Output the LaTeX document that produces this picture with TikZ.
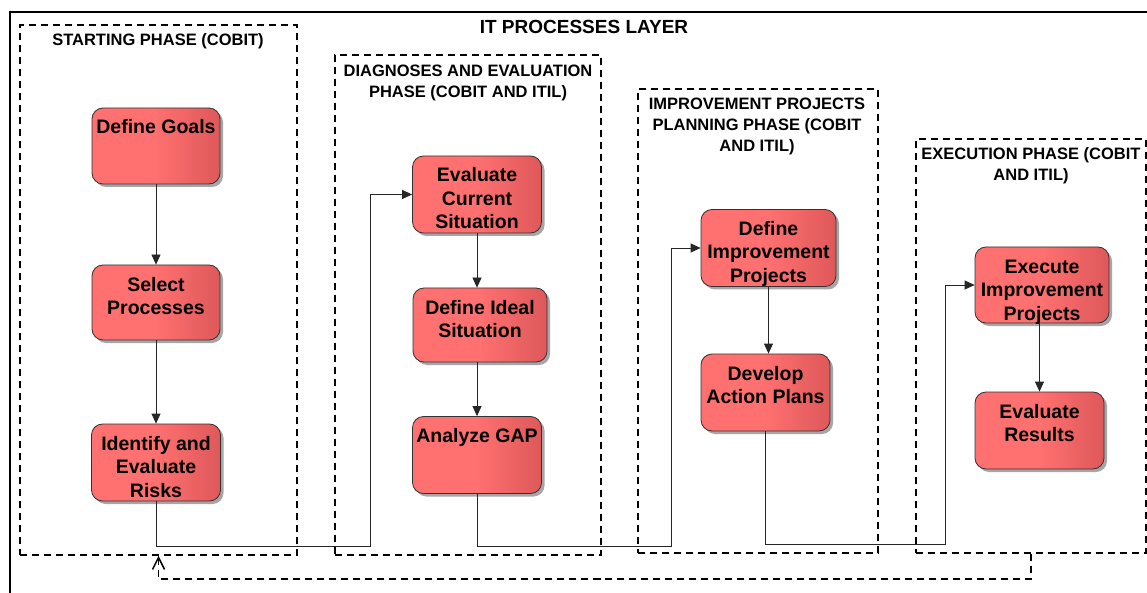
\documentclass[tikz,border=0pt]{standalone}
\usepackage{fontspec}
\setmainfont{Liberation Sans}
\usetikzlibrary{arrows.meta,shadows}
\definecolor{boxlight}{RGB}{255,112,112}
\definecolor{boxdark}{RGB}{222,88,90}
\definecolor{boxedge}{RGB}{50,50,50}
% light red over most of the width, darkening towards the right edge
\pgfdeclarehorizontalshading{procshade}{100bp}{color(0bp)=(boxlight); color(25bp)=(boxlight); color(50bp)=(boxlight); color(75bp)=(boxdark); color(100bp)=(boxdark)}
\begin{document}
\begin{tikzpicture}[x=1pt,y=-1pt,
  procbox/.style={draw=boxedge, line width=0.8pt, rounded corners=11pt,
    shading=procshade,
    drop shadow={shadow xshift=3pt, shadow yshift=-3pt, opacity=0.35, fill=black},
    minimum width=129pt, minimum height=77pt, inner sep=0pt, align=center,
    font=\fontsize{19.5}{23.5}\selectfont\bfseries},
  % text starts near the top edge of each box
  toptext/.style 2 args={text height=#1pt, text depth=#2pt},
  phasebox/.style={draw=black, line width=1.5pt, dash pattern=on 7pt off 5pt, inner sep=0pt},
  phasetitle/.style={align=center, inner sep=0pt, font=\fontsize{16.5}{21}\selectfont\bfseries},
  flow/.style={draw=black!85, line width=0.8pt, -{Triangle[length=10pt,width=9pt]}},
  feedback/.style={draw=black, line width=1.5pt, dash pattern=on 7pt off 5pt,
    -{Straight Barb[length=12pt,width=12pt,line width=1.5pt]}}
]
\useasboundingbox (0,0) rectangle (1147,593);
\clip (0,0) rectangle (1147,593);
\fill[white] (0,0) rectangle (1147,593);

% outer layer frame
\draw[line width=1.5pt] (10,12) rectangle (1170,620);
\node[font=\fontsize{19}{23}\selectfont\bfseries, inner sep=0pt] (layer) at (584,27) {IT PROCESSES LAYER};

% phase containers
\node[phasebox, minimum width=277pt, minimum height=530pt] (p1) at (158.5,290) {};
\node[phasebox, minimum width=266pt, minimum height=500pt] (p2) at (468,305) {};
\node[phasebox, minimum width=240pt, minimum height=464pt] (p3) at (758,321) {};
\node[phasebox, minimum width=230pt, minimum height=414pt] (p4) at (1031,346) {};

\node[phasetitle] (t1) at (158,41.5) {STARTING PHASE (COBIT)};
\node[phasetitle] (t2) at (468,82.5) {DIAGNOSES AND EVALUATION\\PHASE (COBIT AND ITIL)};
\node[phasetitle] (t3) at (757,126) {IMPROVEMENT PROJECTS\\PLANNING PHASE (COBIT\\AND ITIL)};
\node[phasetitle] (t4) at (1031,165.5) {EXECUTION PHASE (COBIT\\AND ITIL)};

% process steps
\node[procbox, minimum width=128pt, minimum height=76pt, toptext={13}{37}] (goals) at (156,146) {Define Goals};
\node[procbox, minimum width=128pt, minimum height=75pt, toptext={24}{0}] (select) at (156,302.5) {Select\\Processes};
\node[procbox, toptext={69}{0}] (risks) at (156,462.5) {Identify and\\Evaluate\\Risks};

\node[procbox, toptext={69}{0}] (evalcur) at (477,194.5) {Evaluate\\Current\\Situation};
\node[procbox, minimum width=134pt, minimum height=74pt, toptext={25}{0}] (ideal) at (480,325) {Define Ideal\\Situation};
\node[procbox, toptext={13}{38}] (gap) at (477,455) {Analyze GAP};

\node[procbox, minimum width=135pt, toptext={69}{0}] (defimp) at (768.5,248) {Define\\Improvement\\Projects};
\node[procbox, toptext={22}{0}] (develop) at (765.5,392.5) {Develop\\Action Plans};

\node[procbox, minimum width=134pt, minimum height=76pt, toptext={70}{0}] (execute) at (1042,285) {Execute\\Improvement\\Projects};
\node[procbox, toptext={22}{0}] (evalres) at (1039.5,430.5) {Evaluate\\Results};

% arrows inside each phase
\draw[flow] (goals) -- (select);
\draw[flow] (select) -- (risks);
\draw[flow] (evalcur.south) -- (evalcur.south |- ideal.north);
\draw[flow] (gap.north |- ideal.south) -- (gap.north);
\draw[flow] (defimp.south) -- (defimp.south |- develop.north);
\draw[flow] (evalres.north |- execute.south) -- (evalres.north);

% hand-over between phases
\coordinate (h1) at (370,546);
\coordinate (h2) at (671,546);
\coordinate (h3) at (945,544);
\draw[flow] (risks.south) |- (h1) |- (evalcur.west);
\draw[flow] (gap.south) |- (h2) |- (defimp.west);
\draw[flow] (develop.south) |- (h3) |- (execute.west);

% feedback loop back to the starting phase
\coordinate (fb) at (600,579);
\draw[feedback] (p4.south) |- (fb) -| (p1.south);
\end{tikzpicture}
\end{document}
